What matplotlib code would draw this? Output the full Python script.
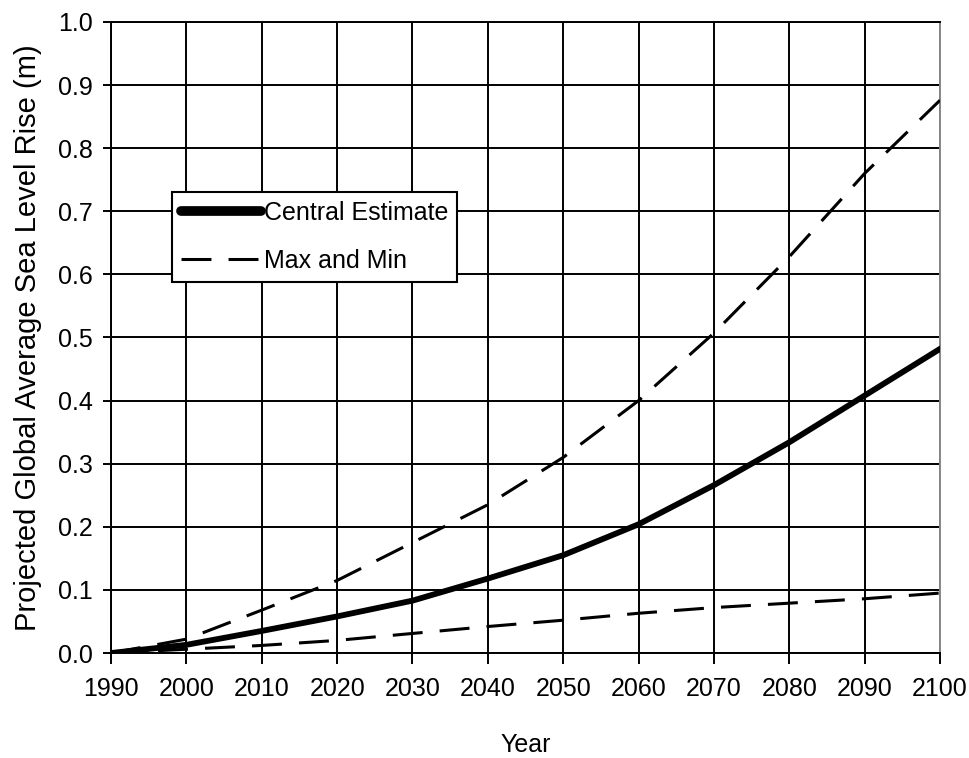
import numpy as np
from matplotlib import pyplot as plt

plt.rcParams['font.family'] = ['Liberation Sans', 'DejaVu Sans']

# Werte
years = [1990, 2000, 2010, 2020, 2030, 2040, 2050, 2060, 2070, 2080, 2090, 2100]
central = [0.0, 0.013, 0.035, 0.058, 0.083, 0.118, 0.155, 0.204, 0.266, 0.334, 0.408, 0.482]
upper = [0.0, 0.022, 0.068, 0.115, 0.175, 0.235, 0.310, 0.400, 0.507, 0.628, 0.760, 0.876]
lower = [0.0, 0.006, 0.012, 0.020, 0.031, 0.042, 0.052, 0.063, 0.072, 0.079, 0.086, 0.095]

xticks = np.arange(1990, 2101, 10)
yticks = np.round(np.arange(0, 1.01, 0.1), 1)

fig = plt.figure(figsize=(9.69, 7.58), dpi=100)
ax = fig.add_axes([0.1146, 0.1385, 0.8555, 0.8325])

ax.plot(years, central, color='black', lw=4.2, label='Central Estimate', zorder=3)
ax.plot(years, upper, color='black', lw=2.2, dashes=(9.8, 5.6), label='Max and Min', zorder=3)
ax.plot(years, lower, color='black', lw=2.2, dashes=(9.8, 5.6), zorder=3)

ax.set_xlim(1990, 2100)
ax.set_ylim(0, 1.0)
ax.set_xticks(xticks)
ax.set_yticks(yticks)
ax.set_yticklabels(['%.1f' % v for v in yticks])
ax.grid(True, color='black', lw=1.4)
ax.tick_params(axis='x', length=8, width=1.4, pad=9, labelsize=18)
ax.tick_params(axis='y', length=6, width=1.4, pad=7, labelsize=18)

for s in ['left', 'bottom', 'top']:
    ax.spines[s].set_linewidth(1.4)
ax.spines['right'].set_color('#888888')
ax.spines['right'].set_linewidth(1.4)

ax.set_xlabel('Year', fontsize=18)
ax.xaxis.set_label_coords(0.5, -0.127)
ax.set_ylabel('Projected Global Average Sea Level Rise (m)', fontsize=21)
ax.yaxis.set_label_coords(-0.083, 0.5)

leg = ax.legend(loc='upper left', bbox_to_anchor=(0.074, 0.73), fontsize=18,
                handlelength=3.2, handletextpad=0.1, labelspacing=0.95,
                borderpad=0.35, borderaxespad=0, fancybox=False, framealpha=1)
leg.get_frame().set_edgecolor('black')
leg.get_frame().set_linewidth(1.5)
h = leg.get_lines()
h[0].set_linewidth(7)
h[0].set_solid_capstyle('round')

plt.savefig('out.png', dpi=100)
